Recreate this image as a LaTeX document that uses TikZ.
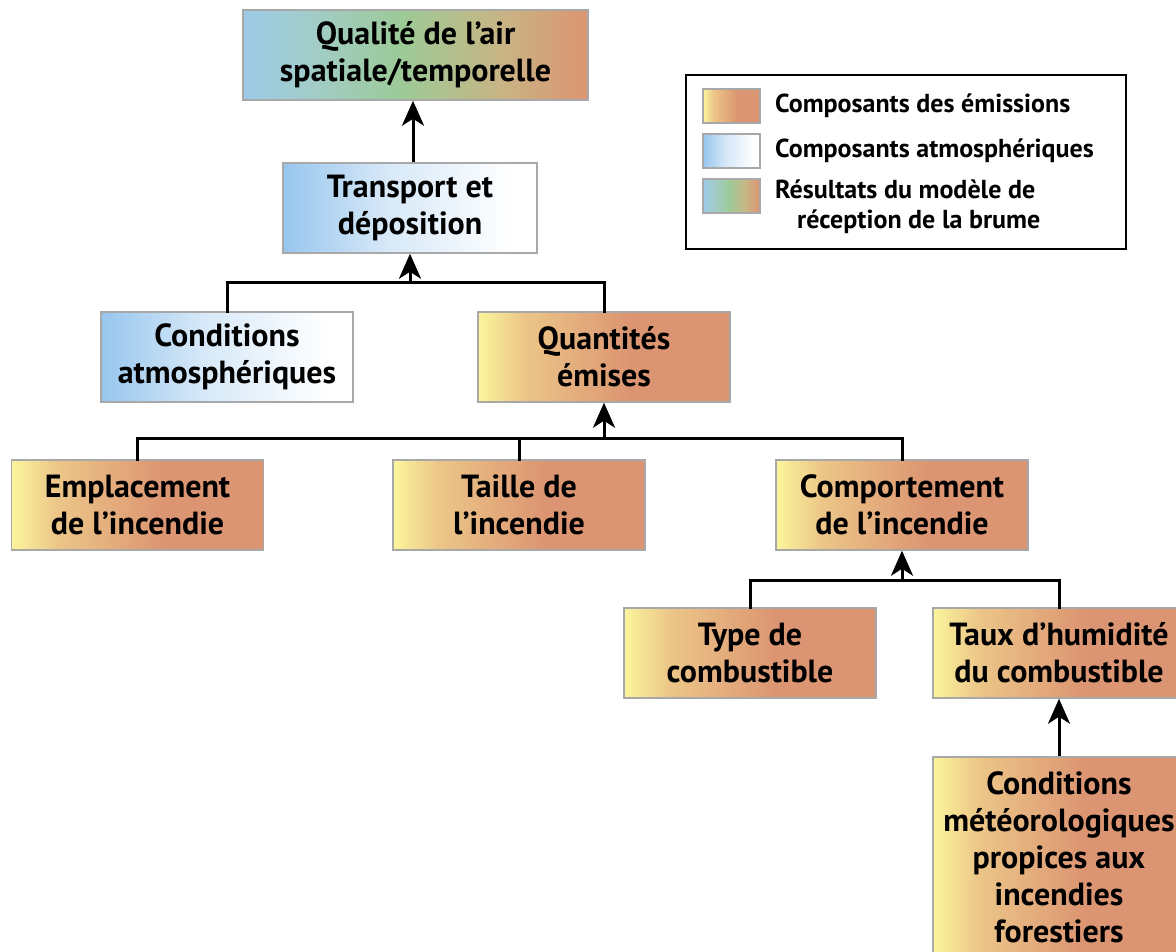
\documentclass[tikz,border=0pt]{standalone}
\usepackage{fontspec}
\setmainfont{PT Sans}
\usetikzlibrary{arrows.meta,calc}
\definecolor{yel}{HTML}{FBF59C}
\definecolor{tanc}{HTML}{ECC688}
\definecolor{ora}{HTML}{DC9572}
\definecolor{blu}{HTML}{97C6EE}
\definecolor{lblu}{HTML}{D6E8F8}
\definecolor{gblu}{HTML}{9DCBE8}
\definecolor{teal}{HTML}{A2CCC8}
\definecolor{grn}{HTML}{9CCA97}
\definecolor{tgrn}{HTML}{C7B585}
\definecolor{bordc}{HTML}{A8A8A8}
\pgfdeclarehorizontalshading{emis}{100bp}{color(0bp)=(yel); color(25bp)=(yel); color(34bp)=(tanc); color(55bp)=(ora); color(100bp)=(ora)}
\pgfdeclarehorizontalshading{atmo}{100bp}{color(0bp)=(blu); color(25bp)=(blu); color(45bp)=(lblu); color(70bp)=(white); color(100bp)=(white)}
\pgfdeclarehorizontalshading{resu}{100bp}{color(0bp)=(gblu); color(25bp)=(gblu); color(35bp)=(teal); color(48bp)=(grn); color(62bp)=(tgrn); color(75bp)=(ora); color(100bp)=(ora)}
\tikzset{
  box/.style={draw=bordc, line width=1.5pt, minimum width=252pt, minimum height=90pt,
    inner sep=0pt, align=center, font=\bfseries\fontsize{32}{37}\selectfont},
  emisbox/.style={box, shading=emis},
  atmobox/.style={box, shading=atmo},
  resubox/.style={box, shading=resu},
  link/.style={line width=3pt, line cap=rect},
  arr/.style={line width=3pt, -{Stealth[length=25pt,width=22pt,inset=7pt]}},
  swatch/.style={draw=bordc, line width=1.5pt, minimum width=57pt, minimum height=34pt, inner sep=0pt},
  legtext/.style={anchor=west, inner sep=0pt, align=left, font=\bfseries\fontsize{26}{30}\selectfont}
}
\begin{document}
\begin{tikzpicture}[x=1pt,y=-1pt]
\useasboundingbox (0,0) rectangle (1176,952);
% nodes
\node[resubox, minimum width=345pt] (qual) at (415.5,55) {Qualité de l’air\\spatiale/temporelle};
\node[atmobox, minimum width=254pt] (trans) at (410,208) {Transport et\\déposition};
\node[atmobox] (cond) at (227,357) {Conditions\\atmosphériques};
\node[emisbox] (quant) at (604,357) {Quantités\\émises};
\node[emisbox] (empl) at (137.5,505) {Emplacement\\de l’incendie};
\node[emisbox] (taille) at (519,505) {Taille de\\l’incendie};
\node[emisbox] (comp) at (902,505) {Comportement\\de l’incendie};
\node[emisbox] (type) at (750,653) {Type de\\combustible};
\node[emisbox] (taux) at (1059,653) {Taux d’humidité\\du combustible};
\node[emisbox, minimum height=200pt] (meteo) at (1059,857) {Conditions\\météorologiques\\propices aux\\incendies\\forestiers};
% connectors
\coordinate (j0) at ($(trans.north)+(3,0)$);
\draw[arr] (j0) -- (j0 |- qual.south);
\coordinate (j1) at ($(trans.south)+(0,29)$);
\draw[link] (cond.north) |- (j1) -| (quant.north);
\draw[arr] (j1) -- (trans.south);
\coordinate (j2) at ($(quant.south)+(0,36)$);
\draw[link] (empl.north) |- (j2) -| (comp.north);
\draw[link] (taille.north) -- (taille.north |- j2);
\draw[arr] (j2) -- (quant.south);
\coordinate (j3) at ($(comp.south)+(0,30)$);
\draw[link] (type.north) |- (j3) -| (taux.north);
\draw[arr] (j3) -- (comp.south);
\draw[arr] (meteo.north) -- (taux.south);
% legend
\node[draw=black, line width=1.2pt, minimum width=440pt, minimum height=174pt, inner sep=0pt] (leg) at (906,162) {};
\node[swatch, shading=emis] (s1) at (731.5,106) {};
\node[swatch, shading=atmo] (s2) at (731.5,151) {};
\node[swatch, shading=resu] (s3) at (731.5,196) {};
\node[legtext] (t1) at (775,106) {Composants des émissions};
\node[legtext] (t2) at (775,151) {Composants atmosphériques};
\node[legtext, anchor=north west] (t3) at (775,180) {Résultats du modèle de\\\hspace*{22pt}réception de la brume};
\end{tikzpicture}
\end{document}
